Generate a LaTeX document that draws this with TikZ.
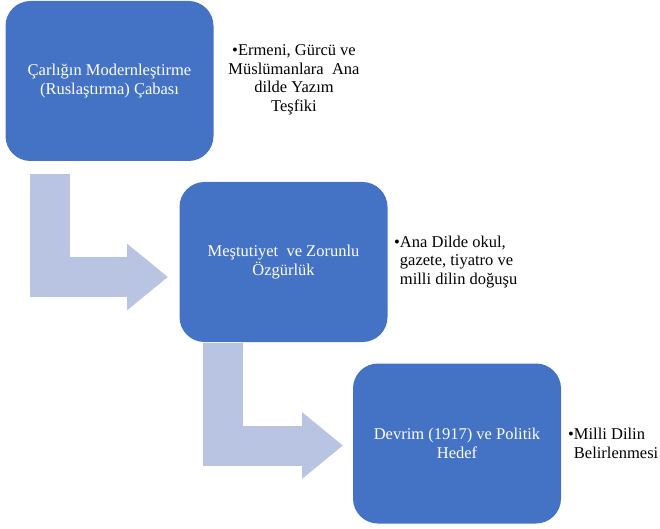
\documentclass[tikz,border=0pt]{standalone}
\usepackage{fontspec}
\setmainfont{Liberation Serif}
\usetikzlibrary{arrows.meta}
\definecolor{boxblue}{HTML}{4472C4}
\definecolor{arrowblue}{HTML}{B9C3E2}
\begin{document}
\begin{tikzpicture}[x=1pt,y=-1pt,
  stagebox/.style={fill=boxblue, rounded corners=25pt, minimum width=208pt,
    minimum height=160pt, text=white, align=center, inner sep=0pt,
    font=\fontsize{16.5}{18.5}\selectfont},
  note/.style={inner sep=0pt, text=black, font=\fontsize{16.5}{18.5}\selectfont},
  bentarrow/.style={draw=arrowblue, line width=40pt, line join=miter, line cap=butt,
    -{Triangle[length=41pt,width=64pt]}}
]
\useasboundingbox (0,0) rectangle (660,529);
% stages
\node[stagebox] (b1) at (109.5,81) {Çarlığın Modernleştirme\\(Ruslaştırma) Çabası};
\node[stagebox] (b2) at (283.5,262) {Meştutiyet\ \ ve Zorunlu\\Özgürlük};
\node[stagebox] (b3) at (457,443.5) {Devrim (1917) ve Politik\\Hedef};
% notes
\node[note, align=center] (n1) at (294,80) {•Ermeni, Gürcü ve\\Müslümanlara\ \ Ana\\dilde Yazım\\Teşfiki};
\node[note, align=left, anchor=west] (n2) at (394,262) {•Ana Dilde okul,\\\phantom{•}gazete, tiyatro ve\\\phantom{•}milli dilin doğuşu};
\node[note, align=left, anchor=west] (n3) at (568,443.5) {•Milli Dilin\\\phantom{•}Belirlenmesi};
% bent arrows
\coordinate (a1s) at (50,174);
\coordinate (a1e) at (168,277);
\coordinate (a2s) at (223,343);
\coordinate (a2e) at (343,445.5);
\draw[bentarrow] (a1s) |- (a1e);
\draw[bentarrow] (a2s) |- (a2e);
\end{tikzpicture}
\end{document}
